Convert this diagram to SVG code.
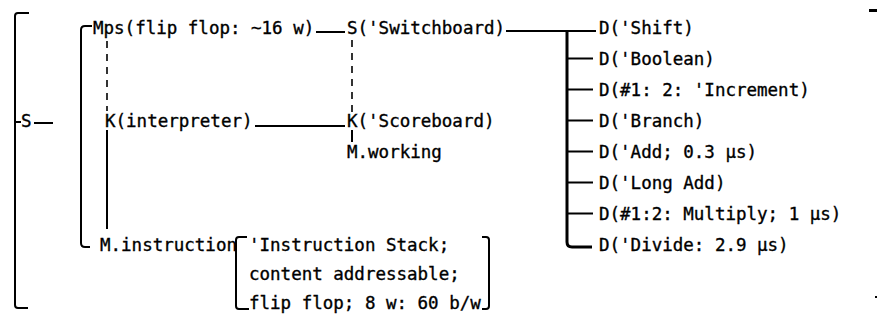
<svg xmlns="http://www.w3.org/2000/svg" width="880" height="320" viewBox="0 0 880 320">
<style>
  .t { font-family: "DejaVu Sans Mono", "Liberation Mono", monospace; font-size: 17.5px; fill: #000; stroke: #000; stroke-width: 0.35; }
  .ln { stroke: #000; stroke-width: 2; fill: none; stroke-linecap: square; }
  .bus { stroke: #000; stroke-width: 3; fill: none; }
  .dash { stroke: #000; stroke-width: 1.6; fill: none; stroke-dasharray: 7 6; }
</style>
<rect width="880" height="320" fill="#fff"/>
<g id="connectors">
  <!-- outer bracket -->
  <path class="ln" d="M28,13 L18,13 Q15,13 15,16 L15,305 Q15,308 18,308 L27,308"/>
  <line class="ln" x1="15" y1="122" x2="20" y2="122"/>
  <line class="ln" x1="35" y1="123" x2="52" y2="123"/>
  <!-- second bracket -->
  <path class="ln" d="M91,26 L85,26 Q81,26 81,30 L81,243 Q81,247 85,247 L89,247"/>
  <!-- Mps - K dashed, K - M.instruction solid -->
  <line class="dash" x1="107" y1="41" x2="107" y2="111"/>
  <line class="ln" x1="107" y1="131" x2="107" y2="228"/>
  <!-- Mps to S -->
  <line class="ln" x1="317" y1="32" x2="344" y2="32"/>
  <!-- K(interpreter) to K(Scoreboard) -->
  <line class="ln" x1="256" y1="126" x2="344" y2="126"/>
  <!-- S - K dashed, K - M.working -->
  <line class="dash" x1="352" y1="40" x2="352" y2="112"/>
  <line class="ln" x1="352" y1="131" x2="352" y2="141"/>
  <!-- S to bus -->
  <line class="ln" x1="507" y1="31" x2="595" y2="31"/>
  <!-- bus -->
  <path class="bus" d="M567,31 L567,242 Q567,247 572,247 L592,247"/>
  <line class="ln" x1="567" y1="58.5" x2="592" y2="58.5"/>
  <line class="ln" x1="567" y1="89.5" x2="592" y2="89.5"/>
  <line class="ln" x1="567" y1="120.5" x2="592" y2="120.5"/>
  <line class="ln" x1="567" y1="151.5" x2="592" y2="151.5"/>
  <line class="ln" x1="567" y1="182.5" x2="592" y2="182.5"/>
  <line class="ln" x1="567" y1="213.5" x2="592" y2="213.5"/>
  <!-- instruction stack brackets -->
  <path class="ln" d="M246,237 L239,237 Q236,237 236,240 L236,306 Q236,309 239,309 L248,309"/>
  <path class="ln" d="M483,237 L486,237 Q489,237 489,240 L489,306 Q489,309 486,309 L483,309"/>
</g>
<g id="node-S"><text class="t" x="21" y="127">S</text></g>
<g id="node-Mps"><text class="t" x="93" y="33.5">Mps(flip flop: ~16 w)</text></g>
<g id="node-Kinterp"><text class="t" x="105" y="126.5">K(interpreter)</text></g>
<g id="node-Minstr"><text class="t" x="100" y="250.5">M.instruction</text></g>
<g id="node-instrstack">
  <text class="t" x="249" y="250.5">'Instruction Stack;</text>
  <text class="t" x="249" y="280">content addressable;</text>
  <text class="t" x="249" y="309">flip flop; 8 w: 60 b/w</text>
</g>
<g id="node-Sswitch"><text class="t" x="347" y="33.5">S('Switchboard)</text></g>
<g id="node-Kscore"><text class="t" x="347" y="126.5">K('Scoreboard)</text></g>
<g id="node-Mworking"><text class="t" x="347" y="157.5">M.working</text></g>
<g id="node-D1"><text class="t" x="599" y="33.5">D('Shift)</text></g>
<g id="node-D2"><text class="t" x="599" y="64.5">D('Boolean)</text></g>
<g id="node-D3"><text class="t" x="599" y="95.5">D(#1: 2: 'Increment)</text></g>
<g id="node-D4"><text class="t" x="599" y="126.5">D('Branch)</text></g>
<g id="node-D5"><text class="t" x="599" y="157.5">D('Add; 0.3 µs)</text></g>
<g id="node-D6"><text class="t" x="599" y="188.5">D('Long Add)</text></g>
<g id="node-D7"><text class="t" x="599" y="219.5">D(#1:2: Multiply; 1 µs)</text></g>
<g id="node-D8"><text class="t" x="599" y="250.5">D('Divide: 2.9 µs)</text></g>
<rect x="869" y="9" width="8" height="3" fill="#000"/>
<rect x="875" y="296" width="2" height="2" fill="#000"/>
</svg>
